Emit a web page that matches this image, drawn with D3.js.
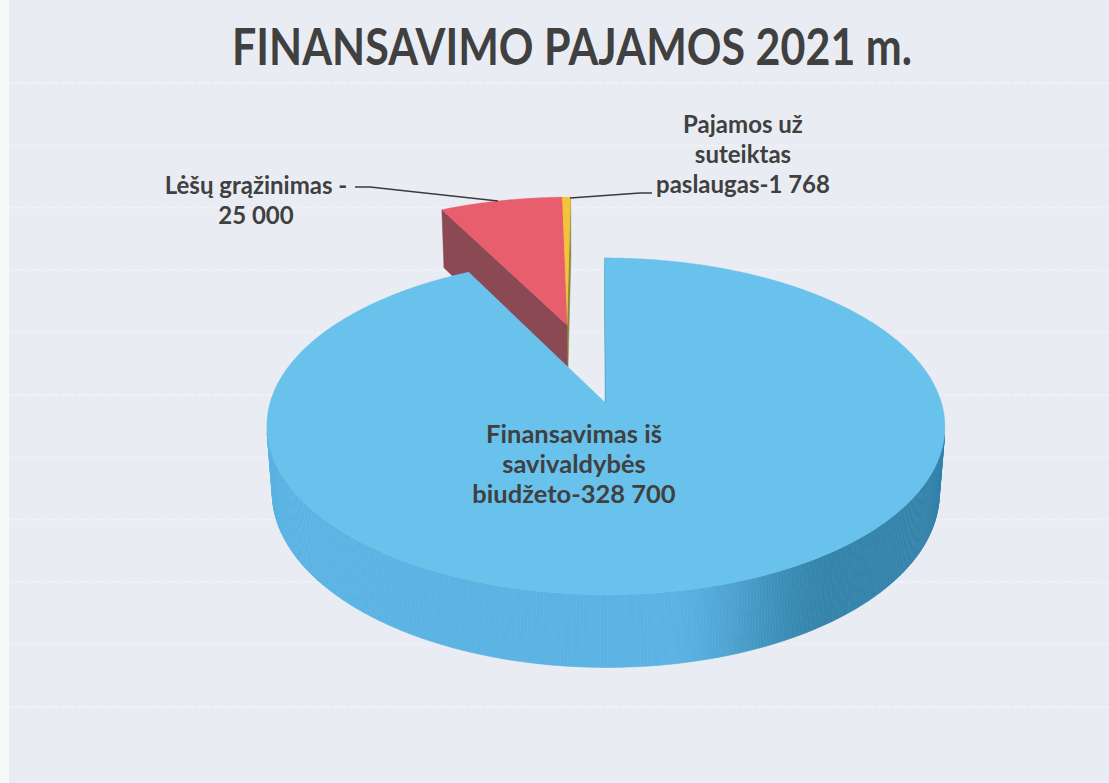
<!DOCTYPE html>
<html>
<head>
<meta charset="utf-8">
<script src="https://cdn.jsdelivr.net/npm/d3@7"></script>
<style>
  html, body { margin: 0; padding: 0; background: #e9edf3; }
  svg { display: block; }
</style>
</head>
<body>
<div id="chart"></div>
<script>
// data
const categories = ["Finansavimas iš savivaldybės biudžeto", "Lėšų grąžinimas", "Pajamos už suteiktas paslaugas"];
const values = [328700, 25000, 1768];
const labelLines = [
  ["Finansavimas iš", "savivaldybės", "biudžeto-328 700"],
  ["Lėšų grąžinimas -", "25 000"],
  ["Pajamos už", "suteiktas", "paslaugas-1 768"]
];
const explode = [0.52, 0, 0];
const title = "FINANSAVIMO PAJAMOS 2021 m.";

const topColors = ["#69c2ec", "#e85e6d", "#f5c23c"];
const sideColors = ["#2f7ea6", "#8a4953", "#8c8a3e"];

const width = 1109, height = 783;

const svg = d3.select("#chart").append("svg")
  .attr("width", width)
  .attr("height", height);

svg.append("rect").attr("width", width).attr("height", height).attr("fill", "#e9edf3");
svg.append("rect").attr("width", 9).attr("height", height).attr("fill", "#f7f8fa");

// faint scan stripes
d3.range(-5, 6).forEach(i => {
  svg.append("line")
    .attr("x1", 10).attr("x2", width)
    .attr("y1", 395 + i * 62.4).attr("y2", 395 + i * 62.4)
    .attr("stroke", "#ffffff").attr("stroke-opacity", 0.3).attr("stroke-width", 1.5)
    .attr("stroke-dasharray", "14 3");
});

// 3d projection
const k = 314, sinP = 0.46, cosP = Math.sqrt(1 - sinP * sinP), D = 6.9;
const xc = 0.1, ox = 567 + k * xc, oy = 325, h = 0.229;
const cam = [xc, D * sinP, D * cosP];

function proj(x, y, z) {
  const up = y * cosP - z * sinP;
  const dep = z * cosP + y * sinP;
  const s = D / (D - dep);
  return [ox + k * (x - xc) * s, oy - k * up * s];
}
function visible(p, n) {
  return n[0] * (cam[0] - p[0]) + n[1] * (cam[1] - p[1]) + n[2] * (cam[2] - p[2]) > 0;
}
const dir = a => [Math.sin(a), -Math.cos(a)];

const pie = d3.pie().sort(null).startAngle(0).endAngle(2 * Math.PI);
const arcs = pie(values).map((d, i) => {
  const mid = (d.startAngle + d.endAngle) / 2;
  const m = dir(mid);
  return { ...d, i, cx: m[0] * explode[i], cz: m[1] * explode[i] };
});

const line = d3.line();
const g = svg.append("g");

function drawSlice(d) {
  const { cx, cz, startAngle: a0, endAngle: a1, i } = d;
  const pt = (a, y) => { const v = dir(a); return proj(cx + v[0], y, cz + v[1]); };

  // radial faces
  [[a0, -1], [a1, 1]].forEach(([a, sgn]) => {
    const n = [sgn * Math.cos(a), 0, sgn * Math.sin(a)];
    const v = dir(a);
    const p = [cx + v[0] / 2, -h / 2, cz + v[1] / 2];
    if (!visible(p, n)) return;
    const poly = [proj(cx, 0, cz), pt(a, 0), pt(a, -h), proj(cx, -h, cz)];
    g.append("path").attr("d", line(poly) + "Z")
      .attr("fill", sideColors[i]).attr("stroke", sideColors[i]).attr("stroke-width", 0.5);
  });

  // outer wall
  const light = d3.color("#5ab3e3"), dark = d3.color("#3483ab");
  const steps = Math.max(2, Math.ceil((a1 - a0) / (Math.PI / 360)));
  const da = (a1 - a0) / steps;
  for (let s = 0; s < steps; s++) {
    const a = a0 + s * da, b = a + da, m = (a + b) / 2;
    const v = dir(m);
    const n = [v[0], 0, v[1]];
    if (!visible([cx + v[0], -h / 2, cz + v[1]], n)) continue;
    let col = sideColors[i];
    if (i === 0) {
      const t = Math.max(0, Math.min(1, (v[0] - 0.15) / 0.45));
      col = d3.interpolateRgb(light, dark)(t * t * (3 - 2 * t));
    }
    g.append("path")
      .attr("d", line([pt(a, 0), pt(b, 0), pt(b, -h), pt(a, -h)]) + "Z")
      .attr("fill", col).attr("stroke", col).attr("stroke-width", 0.6);
  }

  // top face
  const topPts = [proj(cx, 0, cz)];
  const ts = Math.max(2, Math.ceil((a1 - a0) / (Math.PI / 360)));
  for (let s = 0; s <= ts; s++) topPts.push(pt(a0 + (a1 - a0) * s / ts, 0));
  g.append("path").attr("d", line(topPts) + "Z")
    .attr("fill", topColors[i]).attr("stroke", topColors[i]).attr("stroke-width", 0.3);
}

arcs.slice()
  .sort((p, q) => (p.cz - 0.5 * Math.cos((p.startAngle + p.endAngle) / 2)) - (q.cz - 0.5 * Math.cos((q.startAngle + q.endAngle) / 2)))
  .forEach(drawSlice);

// leader lines
const leaders = [
  null,
  [[355, 187], [370, 187], [498, 201]],
  [[570, 198], [640, 193], [652, 193]]
];
leaders.forEach(l => {
  if (!l) return;
  svg.append("path").attr("d", line(l)).attr("fill", "none")
    .attr("stroke", "#3a3a3a").attr("stroke-width", 1.4);
});

// labels
const font = "Lato, 'Open Sans', sans-serif";
const labelPos = [[574, 443, 25.5], [256, 194, 24], [743, 133, 24]];
labelLines.forEach((lines, i) => {
  const [x, y, size] = labelPos[i];
  const t = svg.append("text")
    .attr("x", x).attr("y", y)
    .attr("text-anchor", "middle")
    .attr("font-family", font).attr("font-weight", "bold")
    .attr("font-size", size)
    .attr("fill", "#404040");
  lines.forEach((s, j) => t.append("tspan").attr("x", x).attr("y", y + j * 30).text(s));
});

svg.append("text")
  .attr("x", 572).attr("y", 65)
  .attr("text-anchor", "middle")
  .attr("font-family", font).attr("font-weight", "bold")
  .attr("font-size", 51)
  .attr("textLength", 680)
  .attr("lengthAdjust", "spacingAndGlyphs")
  .attr("fill", "#404040")
  .text(title);
</script>
</body>
</html>
